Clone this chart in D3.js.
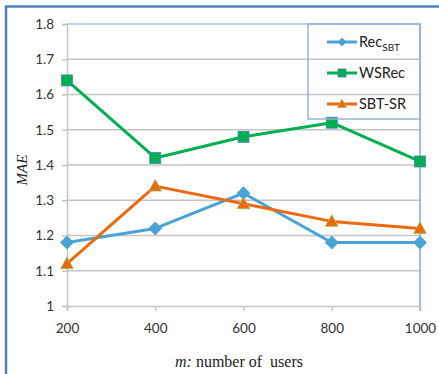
<!DOCTYPE html>
<html>
<head>
<meta charset="utf-8">
<script src="https://cdn.jsdelivr.net/npm/d3@7"></script>
<style>
  body { margin: 0; background: #fff; }
  svg { display: block; }
</style>
</head>
<body>
<div id="chart"></div>
<script>
// data
const users = [200, 400, 600, 800, 1000];
const recSBT = [1.18, 1.22, 1.32, 1.18, 1.18];
const wsRec = [1.64, 1.42, 1.48, 1.52, 1.41];
const sbtSR = [1.12, 1.34, 1.29, 1.24, 1.22];
const yTicks = [1, 1.1, 1.2, 1.3, 1.4, 1.5, 1.6, 1.7, 1.8];

const width = 439, height = 374;
const plotL = 67, plotR = 420, plotT = 24, plotB = 306;

const svg = d3.select("#chart").append("svg")
  .attr("width", width).attr("height", height);

// outer frame (left + top only)
svg.append("line").attr("x1", 6).attr("x2", 6).attr("y1", 6).attr("y2", height)
  .attr("stroke", "#4f81bd").attr("stroke-width", 2.5);
svg.append("line").attr("x1", 5).attr("x2", width).attr("y1", 6.5).attr("y2", 6.5)
  .attr("stroke", "#4f81bd").attr("stroke-width", 2.5);

const x = d3.scalePoint().domain(users).range([plotL, plotR]);
const y = d3.scaleLinear().domain([1, 1.8]).range([plotB, plotT]);

const tickFont = "Lato, 'Open Sans', sans-serif";

// gridlines
svg.append("g").selectAll("line")
  .data(yTicks.slice(1, -1))
  .enter().append("line")
  .attr("x1", plotL).attr("x2", plotR)
  .attr("y1", d => y(d)).attr("y2", d => y(d))
  .attr("stroke", "#c4c4c4").attr("stroke-width", 1.5);

// top border (light blue) and right border
svg.append("line").attr("x1", plotL).attr("x2", plotR + 1)
  .attr("y1", y(1.8)).attr("y2", y(1.8))
  .attr("stroke", "#a9c4e2").attr("stroke-width", 1.5);
svg.append("line").attr("x1", plotR).attr("x2", plotR)
  .attr("y1", plotT).attr("y2", plotB + 5)
  .attr("stroke", "#7ea7d8").attr("stroke-width", 1.5);

// y axis
const yAxis = svg.append("g")
  .attr("transform", `translate(${plotL},0)`)
  .call(d3.axisLeft(y).tickValues(yTicks).tickSize(5).tickPadding(8)
    .tickFormat(d => String(+d.toFixed(1))));
yAxis.select(".domain").attr("stroke", "#c4c4c4").attr("stroke-width", 1.5);
yAxis.selectAll(".tick line").attr("stroke", "#c4c4c4").attr("stroke-width", 1.5);
yAxis.selectAll("text").attr("font-family", tickFont).attr("font-size", 13.5).attr("fill", "#333");

// x axis
const xAxis = svg.append("g")
  .attr("transform", `translate(0,${plotB})`)
  .call(d3.axisBottom(x).tickSize(5).tickPadding(12));
xAxis.select(".domain").attr("stroke", "#c4c4c4").attr("stroke-width", 1.5);
xAxis.selectAll(".tick line").attr("stroke", "#c4c4c4").attr("stroke-width", 1.5);
xAxis.selectAll("text").attr("font-family", tickFont).attr("font-size", 13.5).attr("fill", "#333");

// axis titles
const xt = svg.append("text")
  .attr("x", 239).attr("y", 367)
  .attr("text-anchor", "middle")
  .attr("font-family", "'Liberation Serif', 'Times New Roman', serif")
  .attr("font-size", 16).attr("fill", "#222");
xt.append("tspan").attr("font-style", "italic").text("m:");
xt.append("tspan").text(" number of\u00a0 users");

svg.append("text")
  .attr("transform", "translate(27,170) rotate(-90)")
  .attr("text-anchor", "middle")
  .attr("font-family", "'Liberation Serif', 'Times New Roman', serif")
  .attr("font-style", "italic")
  .attr("font-size", 15).attr("fill", "#222")
  .text("MAE");

const line = d3.line().x((d, i) => x(users[i])).y(d => y(d));

const series = [
  { name: "Rec", sub: "SBT", values: recSBT, color: "#4aa3d6", marker: "diamond", mstroke: "#4aa3d6" },
  { name: "WSRec", sub: "", values: wsRec, color: "#00b050", marker: "square", mstroke: "#4f81bd" },
  { name: "SBT-SR", sub: "", values: sbtSR, color: "#eb6a10", marker: "triangle", mstroke: "#9bbb59" }
];

function drawMarker(g, type, cx, cy, s, fill, stroke) {
  if (type === "square") {
    g.append("rect").attr("x", cx - s / 2).attr("y", cy - s / 2)
      .attr("width", s).attr("height", s)
      .attr("fill", fill).attr("stroke", stroke).attr("stroke-width", 0.8);
  } else if (type === "diamond") {
    const r = s / 2 + 1;
    g.append("path")
      .attr("d", `M${cx},${cy - r}L${cx + r},${cy}L${cx},${cy + r}L${cx - r},${cy}Z`)
      .attr("fill", fill).attr("stroke", stroke).attr("stroke-width", 0.8);
  } else {
    const h = s;
    g.append("path")
      .attr("d", `M${cx},${cy - h * 0.6}L${cx + h * 0.58},${cy + h * 0.45}L${cx - h * 0.58},${cy + h * 0.45}Z`)
      .attr("fill", fill).attr("stroke", stroke).attr("stroke-width", 0.8);
  }
}

// draw lines (order: Rec, WSRec, SBT-SR)
series.forEach(s => {
  svg.append("path").datum(s.values)
    .attr("d", line)
    .attr("fill", "none")
    .attr("stroke", s.color)
    .attr("stroke-width", 3)
    .attr("stroke-linejoin", "round");
  const mg = svg.append("g");
  s.values.forEach((v, i) => drawMarker(mg, s.marker, x(users[i]), y(v), 11, s.color, s.mstroke));
});

// legend
const lg = svg.append("g");
lg.append("rect").attr("x", 308).attr("y", 24).attr("width", 112).attr("height", 95)
  .attr("fill", "none").attr("stroke", "#95b3d7").attr("stroke-width", 1.5);
series.forEach((s, i) => {
  const ly = 42 + i * 31;
  lg.append("line").attr("x1", 327).attr("x2", 357).attr("y1", ly).attr("y2", ly)
    .attr("stroke", s.color).attr("stroke-width", 3);
  drawMarker(lg, s.marker, 342, ly, s.marker === "diamond" ? 6 : 8, s.color, s.mstroke);
  const t = lg.append("text").attr("x", 359).attr("y", ly + 5)
    .attr("font-family", tickFont).attr("font-size", 14.5).attr("fill", "#222")
    .text(s.name);
  if (s.sub) t.append("tspan").attr("font-size", 10).attr("dy", 4).text(s.sub);
});
</script>
</body>
</html>
